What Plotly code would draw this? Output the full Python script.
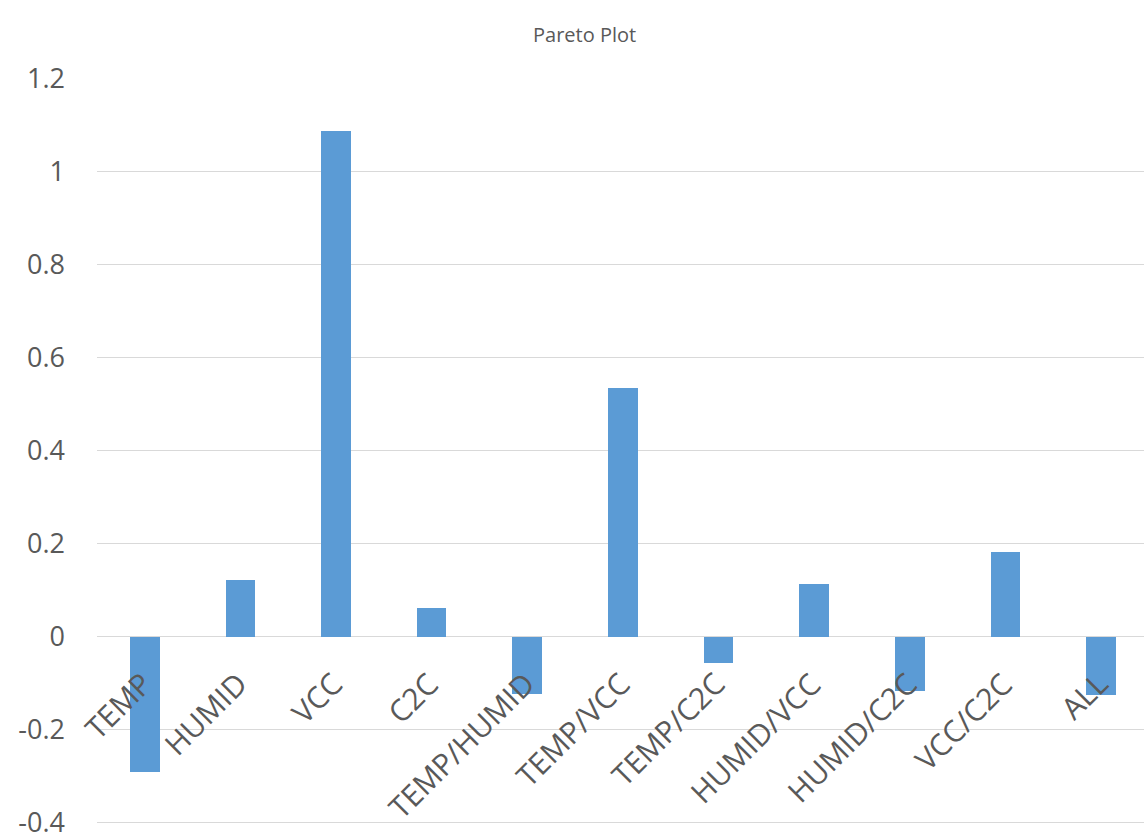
import plotly.graph_objects as go

categories = ["TEMP", "HUMID", "VCC", "C2C", "TEMP/HUMID", "TEMP/VCC",
              "TEMP/C2C", "HUMID/VCC", "HUMID/C2C", "VCC/C2C", "ALL"]
effects = [-0.29, 0.122, 1.088, 0.061, -0.124, 0.535, -0.057, 0.113, -0.117, 0.182, -0.125]
y_ticks = [-0.4, -0.2, 0, 0.2, 0.4, 0.6, 0.8, 1, 1.2]
y_tick_text = ["-0.4", "-0.2", "0", "0.2", "0.4", "0.6", "0.8", "1", "1.2"]

FONT = "Open Sans"
GRAY = "#595959"

fig = go.Figure()
fig.add_trace(go.Bar(
    x=list(range(len(categories))),
    y=effects,
    width=0.31,
    marker=dict(color="#5B9BD5", line=dict(width=0)),
))

# category labels drawn at the zero line, rotated like the original
for i, name in enumerate(categories):
    fig.add_annotation(
        x=i, y=0, xref="x", yref="y", text=name, showarrow=False,
        textangle=-45, xanchor="right", yanchor="top",
        xshift=18, yshift=-24,
        font=dict(family=FONT, size=30, color=GRAY),
    )

fig.update_layout(
    width=1144, height=836,
    margin=dict(l=97, r=0, t=79, b=11, autoexpand=False),
    paper_bgcolor="white", plot_bgcolor="white",
    showlegend=False,
    font=dict(family=FONT, color=GRAY),
    title=dict(text="Pareto Plot", x=0.511, xanchor="center", y=0.958, yanchor="middle",
               font=dict(family=FONT, size=20, color=GRAY)),
    bargap=0,
)
fig.update_xaxes(
    range=[-0.5, 10.45],
    showticklabels=False, automargin=False,
    showgrid=False, showline=False, zeroline=False, ticks="",
)
fig.update_yaxes(
    range=[-0.405, 1.2], automargin=False,
    tickmode="array", tickvals=y_ticks, ticktext=y_tick_text,
    tickfont=dict(family=FONT, size=27, color=GRAY),
    showgrid=True, gridcolor="#D9D9D9", gridwidth=1.3,
    zeroline=False, showline=False, ticks="",
    ticklabelstandoff=31,
    ticklabeloverflow="allow",
)

fig.write_html("out.html")
